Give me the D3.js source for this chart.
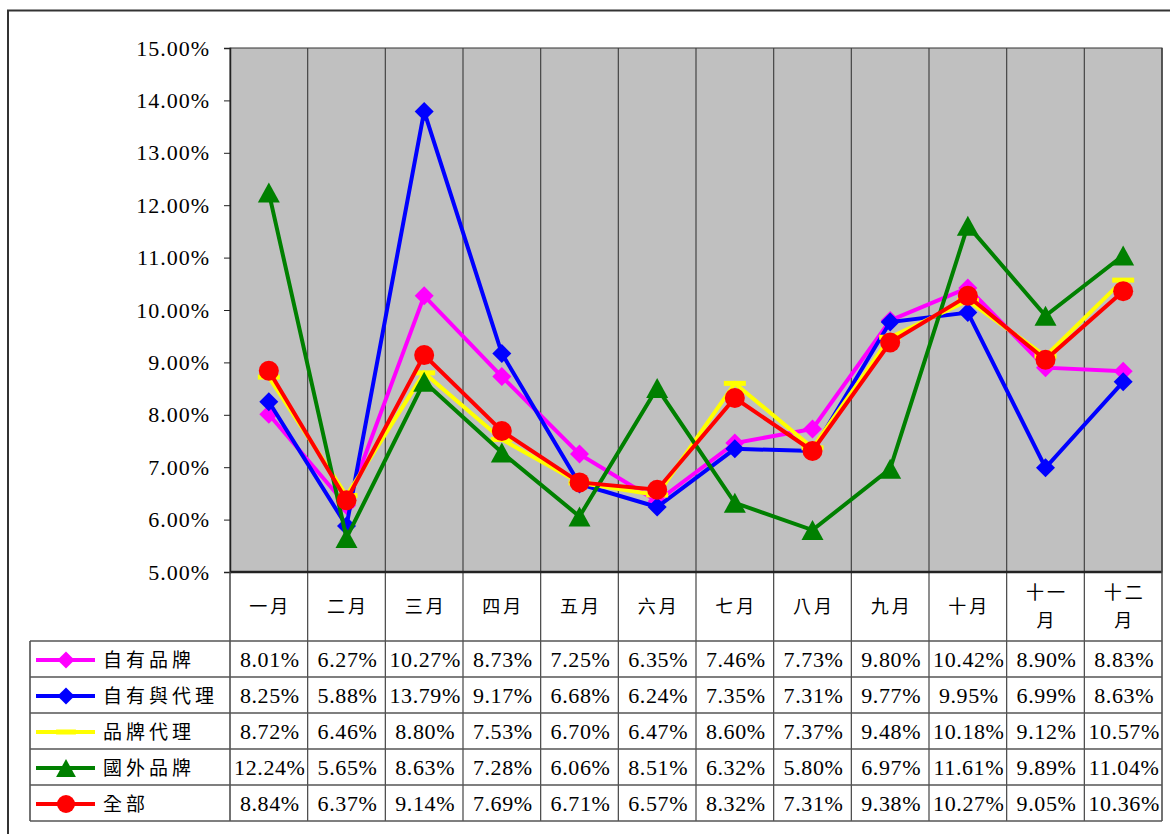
<!DOCTYPE html>
<html><head><meta charset="utf-8">
<script src="https://cdn.jsdelivr.net/npm/d3@7"></script>
<style>
html,body{margin:0;padding:0;background:#fff;overflow:hidden;}
svg{display:block;}
</style></head>
<body>
<svg id="chart" width="1170" height="834"></svg>
<script>
// Monthly rates by channel (percent)
const months = ["一月","二月","三月","四月","五月","六月","七月","八月","九月","十月","十一月","十二月"];
const monthLines = [["一月"],["二月"],["三月"],["四月"],["五月"],["六月"],["七月"],["八月"],["九月"],["十月"],["十一","月"],["十二","月"]];
const seriesNames = ["自有品牌","自有與代理","品牌代理","國外品牌","全部"];
const ownBrand   = [8.01, 6.27, 10.27, 8.73, 7.25, 6.35, 7.46, 7.73, 9.80, 10.42, 8.90, 8.83];
const ownAgency  = [8.25, 5.88, 13.79, 9.17, 6.68, 6.24, 7.35, 7.31, 9.77, 9.95, 6.99, 8.63];
const brandAgent = [8.72, 6.46, 8.80, 7.53, 6.70, 6.47, 8.60, 7.37, 9.48, 10.18, 9.12, 10.57];
const foreign    = [12.24, 5.65, 8.63, 7.28, 6.06, 8.51, 6.32, 5.80, 6.97, 11.61, 9.89, 11.04];
const overall    = [8.84, 6.37, 9.14, 7.69, 6.71, 6.57, 8.32, 7.31, 9.38, 10.27, 9.05, 10.36];
const yTicks = [5,6,7,8,9,10,11,12,13,14,15];

const seriesValues = [ownBrand, ownAgency, brandAgent, foreign, overall];
const seriesColors = ["#ff00ff","#0000ff","#ffff00","#008000","#ff0000"];
const seriesMarkers = ["diamond","diamond","dash","triangle","circle"];

const svg = d3.select("#chart");
const plotL = 230, plotR = 1162, plotT = 48, plotB = 572;
const tableRowTop = 641, rowH = 36, legendL = 30;

const x = d3.scaleBand().domain(months).range([plotL, plotR]).padding(0);
const y = d3.scaleLinear().domain([5, 15]).range([plotB, plotT]);

const numFont = "'Liberation Serif','DejaVu Serif',serif";
const cjkFont = "'Noto Sans CJK TC','Noto Sans CJK SC',sans-serif";

// outer frame
svg.append("rect").attr("x",8).attr("y",10.5).attr("width",1200).attr("height",900)
  .attr("fill","none").attr("stroke","#333").attr("stroke-width",2);

// plot background
svg.append("rect").attr("x",plotL).attr("y",plotT).attr("width",plotR-plotL).attr("height",plotB-plotT)
  .attr("fill","#c0c0c0").attr("stroke","#333").attr("stroke-width",1);

// vertical category separators
svg.append("g").selectAll("line").data(months.slice(1)).join("line")
  .attr("x1",d=>x(d)).attr("x2",d=>x(d)).attr("y1",plotT).attr("y2",tableRowTop+rowH*5)
  .attr("stroke","#444").attr("stroke-width",1.2);

// y axis
const yAxis = d3.axisLeft(y).tickValues(yTicks).tickSize(6).tickPadding(14)
  .tickFormat(d => d3.format(".2f")(d) + "%");
const gy = svg.append("g").attr("transform",`translate(${plotL},0)`).call(yAxis);
gy.select(".domain").attr("stroke","#222").attr("stroke-width",1.5);
gy.selectAll(".tick line").attr("stroke","#222");
gy.selectAll("text").attr("font-family",numFont).attr("font-size",22).attr("fill","#000")
  .attr("letter-spacing","1px");

// table: bottom axis line, right border, row lines
svg.append("line").attr("x1",plotL).attr("x2",plotR).attr("y1",plotB).attr("y2",plotB)
  .attr("stroke","#222").attr("stroke-width",2.5);
svg.append("line").attr("x1",plotR).attr("x2",plotR).attr("y1",plotT).attr("y2",tableRowTop+rowH*5)
  .attr("stroke","#444").attr("stroke-width",1.5);
svg.append("line").attr("x1",plotL).attr("x2",plotL).attr("y1",plotB).attr("y2",tableRowTop+rowH*5)
  .attr("stroke","#444").attr("stroke-width",1.5);
svg.append("line").attr("x1",legendL).attr("x2",legendL).attr("y1",tableRowTop).attr("y2",tableRowTop+rowH*5)
  .attr("stroke","#444").attr("stroke-width",1.5);
svg.append("g").selectAll("line").data(d3.range(6)).join("line")
  .attr("x1",legendL).attr("x2",plotR)
  .attr("y1",i=>tableRowTop+i*rowH).attr("y2",i=>tableRowTop+i*rowH)
  .attr("stroke","#555").attr("stroke-width",1.5);

// category labels
const catG = svg.append("g").selectAll("text").data(months).join("text")
  .attr("font-family",cjkFont).attr("font-size",18).attr("fill","#000")
  .attr("text-anchor","middle").attr("letter-spacing","3px");
catG.each(function(d,i){
  const lines = monthLines[i];
  const t = d3.select(this);
  const cx = x(d) + x.bandwidth()/2 + 1.5;
  const startY = lines.length === 1 ? 613 : 599;
  lines.forEach((ln,j)=>{
    t.append("tspan").attr("x",cx).attr("y",startY + j*28).text(ln);
  });
});

// marker drawing
function drawMarker(g, type, color, cx, cy, scale){
  const s = scale || 1;
  if (type === "diamond"){
    const r = 9.5*s;
    g.append("path").attr("d",`M${cx},${cy-r}L${cx+r},${cy}L${cx},${cy+r}L${cx-r},${cy}Z`).attr("fill",color);
  } else if (type === "circle"){
    g.append("circle").attr("cx",cx).attr("cy",cy).attr("r",10*s).attr("fill",color);
  } else if (type === "triangle"){
    const w = 11*s, h = 10*s;
    g.append("path").attr("d",`M${cx},${cy-h}L${cx+w},${cy+h}L${cx-w},${cy+h}Z`).attr("fill",color);
  } else if (type === "dash"){
    g.append("rect").attr("x",cx-11*s).attr("y",cy-2.5).attr("width",22*s).attr("height",5).attr("fill",color);
  }
}

// series lines and markers
const line = d3.line().x((d,i)=>x(months[i])+x.bandwidth()/2).y(d=>y(d));
seriesValues.forEach((vals,k)=>{
  const g = svg.append("g");
  g.append("path").datum(vals).attr("d",line).attr("fill","none")
    .attr("stroke",seriesColors[k]).attr("stroke-width",4).attr("stroke-linejoin","miter");
  vals.forEach((v,i)=>drawMarker(g, seriesMarkers[k], seriesColors[k], x(months[i])+x.bandwidth()/2, y(v)));
});

// legend keys and data cells
seriesNames.forEach((name,k)=>{
  const cy = tableRowTop + k*rowH + rowH/2;
  const g = svg.append("g");
  g.append("line").attr("x1",36).attr("x2",95).attr("y1",cy+1).attr("y2",cy+1)
    .attr("stroke",seriesColors[k]).attr("stroke-width",4);
  drawMarker(g, seriesMarkers[k], seriesColors[k], 66, cy+1, 0.9);
  g.append("text").attr("x",103).attr("y",cy+8).attr("font-family",cjkFont).attr("font-size",19)
    .attr("letter-spacing","4px").attr("fill","#000").text(name);
  seriesValues[k].forEach((v,i)=>{
    svg.append("text").attr("x",x(months[i])+x.bandwidth()/2+1).attr("y",cy+8)
      .attr("text-anchor","middle").attr("font-family",numFont).attr("font-size",22)
      .attr("letter-spacing","0.6px").attr("fill","#000")
      .text(d3.format(".2f")(v)+"%");
  });
});
</script>
</body></html>
